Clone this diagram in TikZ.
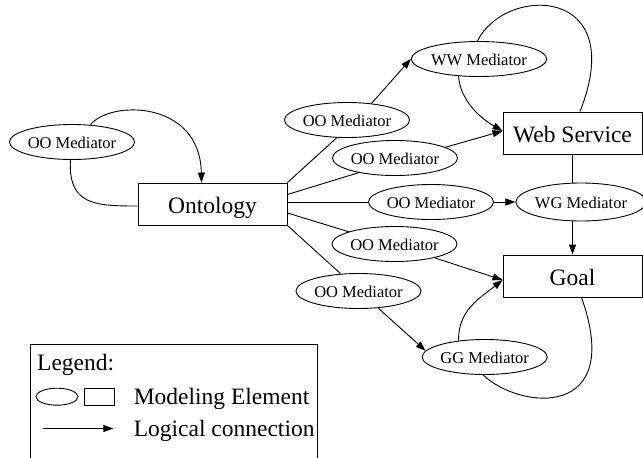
\documentclass[tikz,border=0pt]{standalone}
\usepackage{fontspec}
\setmainfont{Liberation Serif}
\usetikzlibrary{shapes.geometric,arrows.meta}
\begin{document}
\begin{tikzpicture}[x=1pt,y=-1pt, line width=0.9pt,
  med/.style={ellipse,draw,minimum width=120pt,minimum height=35pt,inner sep=0pt,
    font=\fontsize{16.5}{18}\selectfont,text height=13pt,text depth=0pt},
  elem/.style={rectangle,draw,minimum height=42pt,inner sep=0pt,
    font=\fontsize{23.5}{26}\selectfont,text height=19pt,text depth=0pt},
  legtext/.style={anchor=base west,inner sep=0pt,font=\fontsize{23.5}{26}\selectfont},
  arr/.style={-{Triangle[length=10pt,width=7pt]}}]
\useasboundingbox (0,0) rectangle (643,458);

% nodes
\node[med] (ooL) at (72,142) {OO Mediator};
\node[elem,minimum width=149pt] (ont) at (212.5,204) {Ontology};
\node[med] (oo1) at (347,120) {OO Mediator};
\node[med] (ww) at (479,59) {WW Mediator};
\node[elem,minimum width=139pt] (ws) at (572.5,133) {Web Service};
\node[med] (oo2) at (395,158) {OO Mediator};
\node[med] (oo3) at (431,202) {OO Mediator};
\node[med,minimum height=38pt] (wg) at (581,202) {WG Mediator};
\node[elem,minimum width=139pt] (goal) at (572.5,276) {Goal};
\node[med] (oo4) at (394.5,244) {OO Mediator};
\node[med] (oo5) at (358.5,291) {OO Mediator};
\node[med] (gg) at (484.7,357) {GG Mediator};

% connectors
\draw[arr] (ooL.43) .. controls (110,100) and (200,100) .. ([xshift=-11pt]ont.north);
\draw (ooL.265) .. controls (68,205) and (95,206) .. ([yshift=-2pt]ont.west);
\draw (ont.north east) -- (oo1.240);
\draw[arr] (oo1.34) -- (ww.west);
\draw[arr] (ww.220) .. controls (460,100) and (480,118) .. ([yshift=2pt]ws.west);
\draw (ww.95) .. controls (505,-15) and (630,-15) .. ([xshift=7.5pt]ws.north);
\draw ([yshift=9.5pt]ont.east) -- (oo2.202);
\draw[arr] (oo2.12) -- ([yshift=2pt]ws.west);
\draw (ont.east |- oo3.west) -- (oo3.west);
\draw[arr] (oo3.east) -- (wg.west);
\draw (ws.south) -- (ws.south |- wg.north);
\draw[arr] (goal.north |- wg.south) -- (goal.north);
\draw ([yshift=-9pt]ont.east) -- (oo4.165);
\draw[arr] (oo4.-19) -- ([yshift=-4pt]goal.west);
\draw (ont.south east) -- (oo5.136);
\draw[arr] (oo5.-41) -- (gg.174);
\draw[arr] (gg.148) .. controls (458,310) and (480,298) .. ([yshift=-4pt]goal.west);
\draw (gg.265) .. controls (520,410) and (625,420) .. ([xshift=9pt]goal.south);

% legend
\draw (30,458) -- (30,344) -- (317,344) -- (317,458);
\node[legtext] (legtitle) at (36.7,370) {Legend:};
\node[ellipse,draw,minimum width=42pt,minimum height=17pt,inner sep=0pt] (legell) at (57,396.7) {};
\node[rectangle,draw,minimum width=30pt,minimum height=17pt,inner sep=0pt] (legrect) at (99,396.7) {};
\node[legtext] (legmod) at (133.3,404) {Modeling Element};
\coordinate (legA) at (42.7,428.5);
\coordinate (legB) at (113.3,428.5);
\draw[arr] (legA) -- (legB);
\node[legtext] (leglog) at (133.3,436) {Logical connection};
\end{tikzpicture}
\end{document}
